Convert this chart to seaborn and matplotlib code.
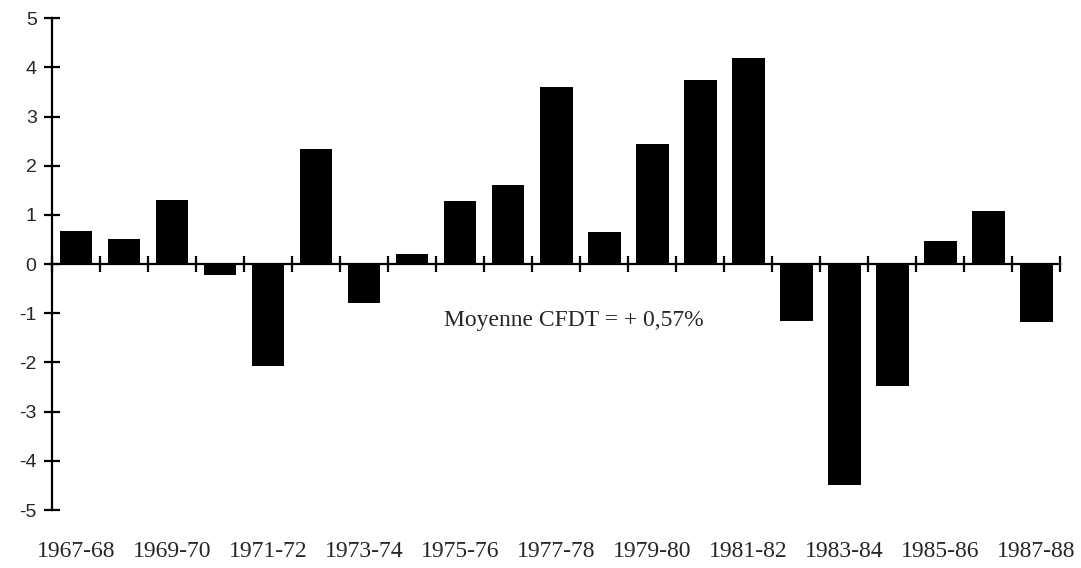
import numpy as np
import matplotlib
matplotlib.use("Agg")
import matplotlib.pyplot as plt
import seaborn as sns

# data
periods = [f"{y}-{str(y + 1)[-2:]}" for y in range(1967, 1988)]
values = [0.67, 0.51, 1.30, -0.22, -2.07, 2.35, -0.80, 0.20, 1.28, 1.60, 3.60,
          0.65, 2.45, 3.75, 4.20, -1.16, -4.50, -2.47, 0.47, 1.08, -1.18]
label_periods = periods[::2]
y_ticks = list(range(-5, 6))
note = "Moyenne CFDT = + 0,57%"

sns.set_style("white")
plt.rcParams["font.family"] = ["Liberation Serif", "DejaVu Serif"]

fig = plt.figure(figsize=(10.81, 5.68), dpi=100)
ax = fig.add_axes([0.048, 0.102, 0.933, 0.866])

sns.barplot(x=periods, y=values, color="black", width=0.68,
            saturation=1, edgecolor="none", ax=ax)

ax.set_xlim(-0.5, len(periods) - 0.5)
ax.set_ylim(-5, 5)

# x axis drawn through zero, ticks between the bars
ax.spines["top"].set_visible(False)
ax.spines["right"].set_visible(False)
ax.spines["bottom"].set_position(("data", 0))
for side in ["left", "bottom"]:
    ax.spines[side].set_color("black")
    ax.spines[side].set_linewidth(1.6)

ax.set_xticks(np.arange(len(periods) + 1) - 0.5)
ax.set_xticklabels([])
ax.tick_params(axis="x", bottom=True, direction="inout", length=12, width=1.6,
               color="black")

ax.set_yticks(y_ticks)
ax.set_yticklabels([str(t) for t in y_ticks], family=["Liberation Sans"], fontsize=14)
ax.tick_params(axis="y", left=True, direction="inout", length=12, width=1.6,
               color="black", pad=5)
ax.set_xlabel("")
ax.set_ylabel("")

# period labels along the bottom of the frame
sec = ax.secondary_xaxis("bottom")
sec.set_xticks([periods.index(p) for p in label_periods])
sec.set_xticklabels(label_periods, fontsize=17)
sec.tick_params(length=0, pad=22)
sec.spines["bottom"].set_visible(False)

ax.text(7.67, -1.15, note, ha="left", va="center", fontsize=17)

plt.savefig("out.png", dpi=100)
plt.close()
